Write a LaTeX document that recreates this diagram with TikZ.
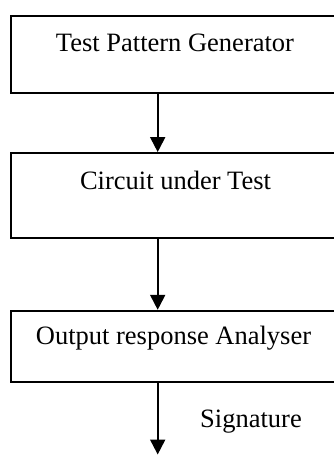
\documentclass[tikz,border=0pt]{standalone}
\usepackage{fontspec}
\setmainfont{Liberation Serif}
\usetikzlibrary{arrows.meta}
\begin{document}
\begin{tikzpicture}[x=1pt,y=-1pt,
  blockbox/.style={draw=black,line width=1.8pt,minimum width=328pt,inner sep=0pt},
  lbl/.style={font=\fontsize{26.5}{30}\selectfont,inner sep=0pt,anchor=base},
  arr/.style={line width=2pt,-{Triangle[width=15pt,length=15pt]}}]
\clip (0,0) rectangle (334,455);
\node[blockbox,minimum height=77pt] (b1) at (175,54.8) {};
\node[blockbox,minimum height=84.7pt] (b2) at (175,195.3) {};
\node[blockbox,minimum height=71pt] (b3) at (175,346.2) {};
\node[lbl] (t1) at (175,51.7) {Test Pattern Generator};
\node[lbl] (t2) at (175.5,189) {Circuit under Test};
\node[lbl] (t3) at (173.5,344) {Output response Analyser};
\node[lbl,anchor=base west] (sig) at (200,427) {Signature};
\coordinate (ax) at (157.7,0);
\coordinate (endpt) at (157.7,454.5);
\draw[arr] (b1.south -| ax) -- (b2.north -| ax);
\draw[arr] (b2.south -| ax) -- (b3.north -| ax);
\draw[arr] (b3.south -| ax) -- (endpt);
\end{tikzpicture}
\end{document}
